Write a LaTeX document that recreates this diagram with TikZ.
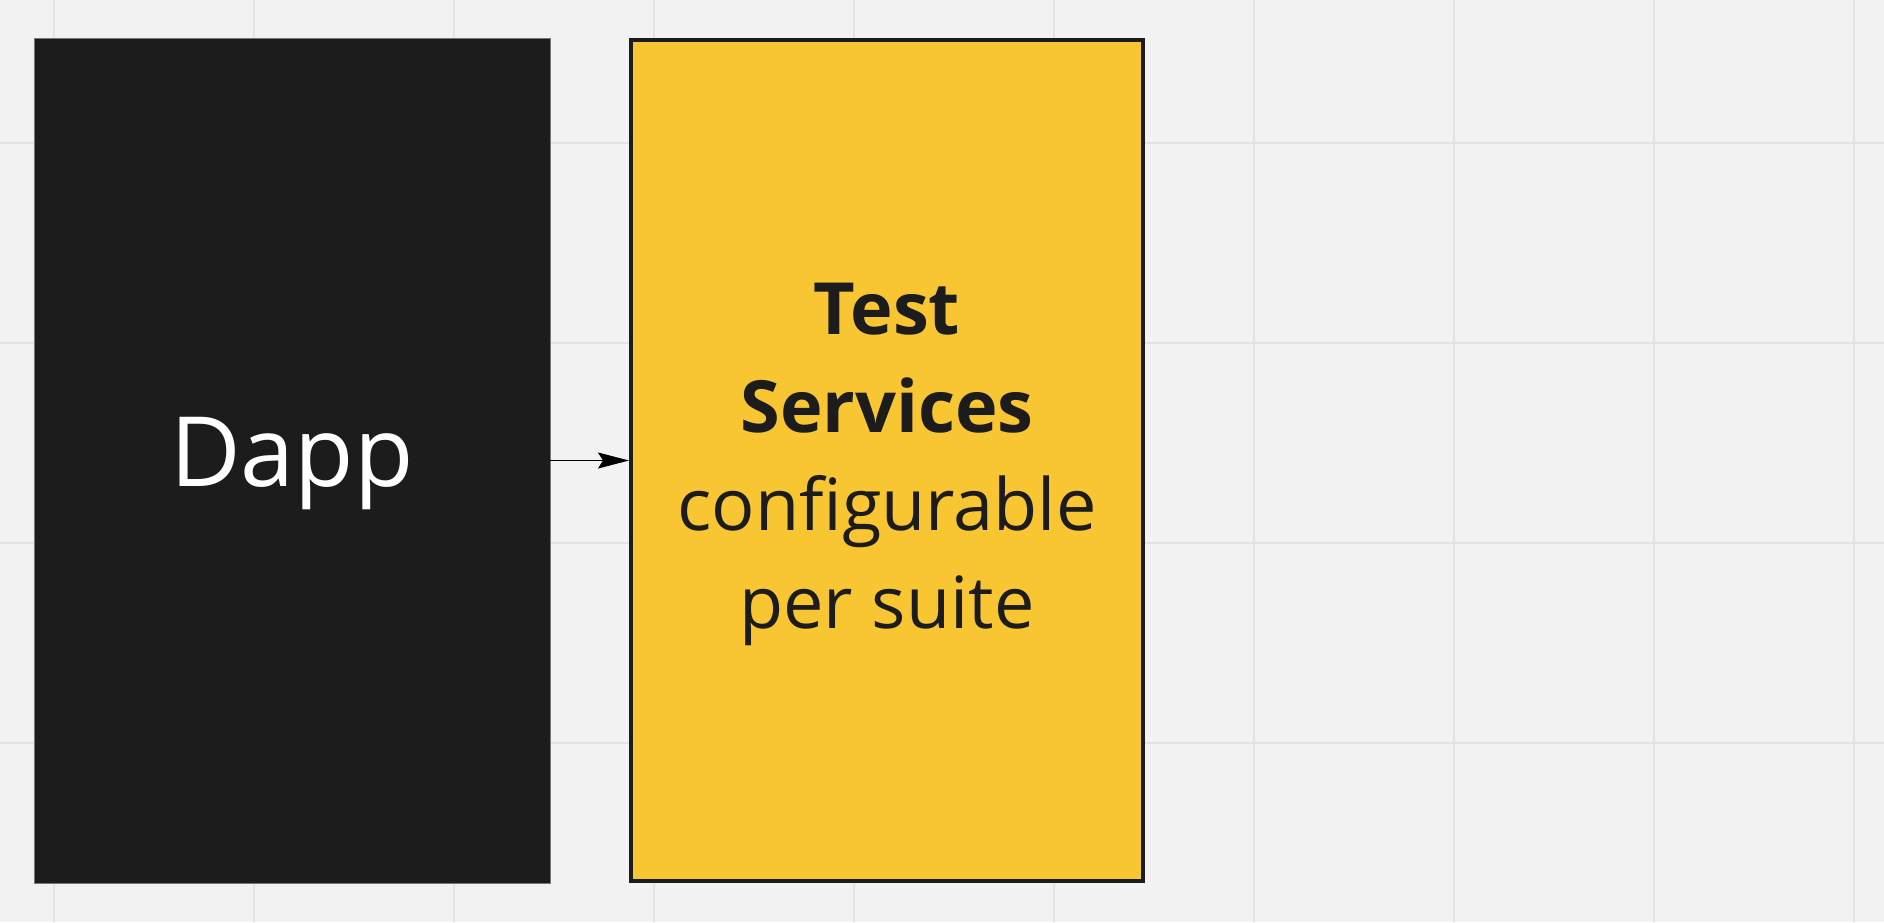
\documentclass[tikz,border=0pt]{standalone}
\usepackage{fontspec}
\setmainfont{Open Sans}
\usetikzlibrary{arrows.meta}
\definecolor{bg}{HTML}{F2F2F2}
\definecolor{gridc}{HTML}{E2E2E2}
\definecolor{ink}{HTML}{1C1C1C}
\definecolor{amber}{HTML}{F8C533}
\tikzset{
  gridline/.style={draw=gridc, line width=2pt},
  darkbox/.style={rectangle, fill=ink, draw=ink!60!white, line width=0.6pt, inner sep=0pt},
  yellowbox/.style={rectangle, fill=amber, draw=ink, line width=4pt, inner sep=0pt},
  darktext/.style={text=white, inner sep=0pt, font=\fontsize{97}{120}\selectfont, yshift=-3.5pt},
  yellowtext/.style={text=ink, inner sep=0pt, align=center, font=\fontsize{72}{98}\selectfont, yshift=-4pt},
  conn/.style={draw=black, line width=1.5pt, -{Stealth[length=31pt,width=16pt,inset=5pt]}}
}
\begin{document}
\begin{tikzpicture}[x=1pt,y=-1pt]
\fill[bg] (0,0) rectangle (1884,922);
\useasboundingbox (0,0) rectangle (1884,922);
\foreach \gx in {54,254,...,1854} \draw[gridline] (\gx,0) -- (\gx,922);
\foreach \gy in {143,343,543,743} \draw[gridline] (0,\gy) -- (1884,\gy);
\node[darkbox, minimum width=516pt, minimum height=845pt,
      label={[darktext]center:Dapp}] (dapp) at (292,460.5) {};
\node[yellowbox, minimum width=512pt, minimum height=841pt,
      label={[yellowtext]center:{\textbf{Test}\\\textbf{Services}\\configurable\\per suite}}] (svc) at (887,460.5) {};
\draw[conn] (dapp.east) -- (svc.west);
\end{tikzpicture}
\end{document}
